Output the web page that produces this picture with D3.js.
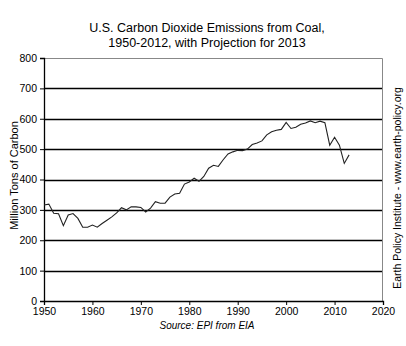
<!DOCTYPE html>
<html lang="en">
<head>
    <meta charset="UTF-8">
    <title>US CO2 from Coal</title>
    <script src="https://d3js.org/d3.v7.min.js"></script>
    <style>
        html, body{
            margin:0;
            background:#fff;
        }
        text{
            font-family: "Liberation Sans", Arial, sans-serif;
            fill:#000;
        }
        .grid line{
            stroke:#000;
            stroke-width:1.3;
        }
        .line{
            fill:none;
            stroke:#222;
            stroke-width:1.1;
        }
    </style>
</head>
<body>
<div id="chart"></div>

<script>
    // data (million tons of carbon)
    var years = d3.range(1950, 2014);
    var emissions = [
        316, 319, 289, 287, 248, 283, 288, 272, 243, 243,   // 1950s
        250, 243, 255, 266, 277, 290, 307, 300, 310, 310,   // 1960s
        308, 293, 306, 327, 322, 322, 342, 352, 355, 385,   // 1970s
        392, 404, 394, 410, 437, 447, 443, 465, 484, 491,   // 1980s
        496, 495, 500, 515, 520, 527, 547, 557, 562, 565,   // 1990s
        588, 568, 572, 582, 586, 593, 587, 592, 587, 513,   // 2000s
        539, 513, 453, 481                                  // 2010-2013
    ];
    var xTicks = [1950, 1960, 1970, 1980, 1990, 2000, 2010, 2020];
    var yTicks = [0, 100, 200, 300, 400, 500, 600, 700, 800];

    var W = 406, H = 346;
    var margin = {top: 58, right: 23, bottom: 45, left: 44};
    var width = W - margin.left - margin.right;
    var height = H - margin.top - margin.bottom;

    var svg = d3.select("#chart").append("svg")
        .attr("width", W)
        .attr("height", H);

    var g = svg.append("g")
        .attr("transform", "translate(" + margin.left + "," + margin.top + ")");

    var x = d3.scaleLinear().domain([1950, 2020]).range([0, width]);
    var y = d3.scaleLinear().domain([0, 800]).range([height, 0]);

    // horizontal grid lines
    g.append("g").attr("class", "grid")
        .selectAll("line")
        .data(yTicks.filter(function(d){ return d > 0 && d < 800; }))
        .enter().append("line")
        .attr("x1", 0).attr("x2", width)
        .attr("y1", function(d){ return Math.round(y(d)) + 0.5; })
        .attr("y2", function(d){ return Math.round(y(d)) + 0.5; });

    // gray frame top and right
    g.append("path")
        .attr("d", "M0," + (Math.round(y(800)) + 0.5) + "H" + (width - 0.5) + "V" + height)
        .attr("fill", "none")
        .attr("stroke", "#888")
        .attr("stroke-width", 1);

    // axes
    var yAxis = g.append("g")
        .call(d3.axisLeft(y).tickValues(yTicks).tickSize(4).tickPadding(3));
    var xAxis = g.append("g")
        .attr("transform", "translate(0," + height + ")")
        .call(d3.axisBottom(x).tickValues(xTicks).tickFormat(d3.format("d")).tickSize(4).tickPadding(3));

    [xAxis, yAxis].forEach(function(a){
        a.select(".domain").attr("stroke", "#000").attr("stroke-width", 1.3);
        a.selectAll(".tick line").attr("stroke", "#000");
        a.selectAll("text")
            .style("font-family", "'Liberation Sans', Arial, sans-serif")
            .style("font-size", "10.5px")
            .attr("fill", "#000");
    });

    // data line
    var valueLine = d3.line()
        .x(function(d, i){ return x(years[i]); })
        .y(function(d){ return y(d); });

    g.append("path")
        .datum(emissions)
        .attr("class", "line")
        .attr("d", valueLine);

    // title
    var title = svg.append("text")
        .attr("x", 207)
        .attr("text-anchor", "middle")
        .style("font-size", "12.5px");
    title.append("tspan").attr("x", 207).attr("y", 32)
        .text("U.S. Carbon Dioxide Emissions from Coal,");
    title.append("tspan").attr("x", 207).attr("y", 47)
        .text("1950-2012, with Projection for 2013");

    // y axis label
    svg.append("text")
        .attr("transform", "translate(18," + (margin.top + height / 2 - 4) + ") rotate(-90)")
        .attr("text-anchor", "middle")
        .style("font-size", "11px")
        .text("Million Tons of Carbon");

    // right credit
    svg.append("text")
        .attr("transform", "translate(401,188) rotate(-90)")
        .attr("text-anchor", "middle")
        .style("font-size", "10.5px")
        .text("Earth Policy Institute - www.earth-policy.org");

    // source
    svg.append("text")
        .attr("x", 207)
        .attr("y", 329)
        .attr("text-anchor", "middle")
        .style("font-size", "10px")
        .style("font-style", "italic")
        .text("Source: EPI from EIA");
</script>
</body>
</html>
